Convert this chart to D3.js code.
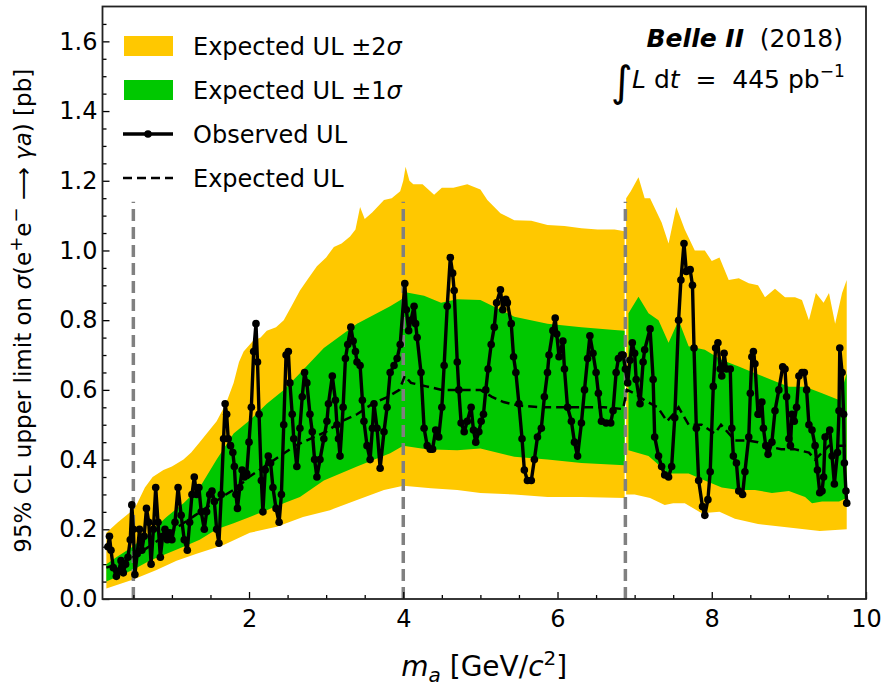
<!DOCTYPE html>
<meta charset="utf-8">
<script src="https://d3js.org/d3.v7.min.js"></script>
<style>
	body{
		margin:0;
		background:#fff;
		font-family:'DejaVu Sans', sans-serif;
	}
	.tick text{
		font-family:'DejaVu Sans', sans-serif;
	}
</style>
<div id="chart"></div>
<script>

// observed upper limit (mass in GeV/c^2, limit in pb)
var obsMass = [0.17,0.19,0.21,0.24,0.28,0.31,0.34,0.37,0.40,0.43,0.46,0.48,0.50,0.52,0.55,0.58,0.61,0.64,0.67,0.70,
	0.73,0.76,0.79,0.82,0.85,0.88,0.91,0.94,0.97,1.00,1.04,1.08,1.12,1.16,1.20,1.23,1.26,1.29,1.32,1.35,
	1.38,1.42,1.45,1.49,1.52,1.55,1.58,1.61,1.64,1.67,1.69,1.71,1.73,1.76,1.79,1.81,1.83,1.85,1.88,1.91,
	1.94,1.97,2.00,2.03,2.06,2.09,2.11,2.13,2.16,2.18,2.21,2.25,2.28,2.31,2.35,2.39,2.42,2.45,2.48,2.51,
	2.53,2.56,2.58,2.62,2.66,2.69,2.72,2.75,2.79,2.82,2.85,2.88,2.92,2.97,3.01,3.03,3.08,3.12,3.14,3.16,
	3.18,3.22,3.25,3.28,3.32,3.35,3.38,3.40,3.44,3.47,3.49,3.53,3.57,3.60,3.62,3.66,3.70,3.75,3.79,3.83,
	3.88,3.92,3.96,4.02,4.04,4.07,4.10,4.14,4.16,4.18,4.23,4.27,4.31,4.35,4.38,4.42,4.46,4.50,4.53,4.57,
	4.61,4.64,4.66,4.70,4.72,4.75,4.79,4.83,4.88,4.91,4.94,4.98,5.01,5.04,5.07,5.10,5.14,5.18,5.21,5.26,
	5.29,5.33,5.35,5.40,5.43,5.46,5.50,5.54,5.57,5.61,5.66,5.70,5.74,5.79,5.83,5.87,5.89,5.94,5.97,5.99,
	6.02,6.07,6.09,6.13,6.18,6.22,6.26,6.31,6.35,6.39,6.42,6.46,6.50,6.53,6.57,6.63,6.69,6.72,6.76,6.79,
	6.83,6.85,6.88,6.91,6.94,6.97,7.00,7.02,7.07,7.11,7.13,7.20,7.24,7.26,7.31,7.35,7.39,7.44,7.48,7.52,
	7.57,7.60,7.64,7.67,7.72,7.75,7.77,7.80,7.83,7.88,7.91,7.95,7.98,8.02,8.05,8.08,8.11,8.13,8.16,8.19,
	8.24,8.26,8.28,8.32,8.35,8.40,8.43,8.48,8.50,8.52,8.54,8.56,8.60,8.61,8.65,8.67,8.70,8.73,8.78,8.82,
	8.87,8.92,8.95,8.97,9.00,9.02,9.04,9.07,9.10,9.13,9.17,9.20,9.23,9.26,9.30,9.34,9.37,9.40,9.43,9.45,
	9.47,9.53,9.56,9.59,9.63,9.65,9.66,9.69,9.71,9.72,9.74,9.75]
var obsLimit = [0.15,0.18,0.14,0.09,0.065,0.08,0.11,0.075,0.10,0.12,0.17,0.27,0.20,0.07,0.13,0.20,0.14,0.18,0.26,0.22,
	0.10,0.20,0.32,0.22,0.12,0.18,0.20,0.17,0.19,0.17,0.22,0.32,0.24,0.17,0.14,0.22,0.30,0.35,0.30,0.32,
	0.25,0.20,0.25,0.30,0.31,0.28,0.20,0.16,0.30,0.46,0.56,0.53,0.46,0.44,0.42,0.38,0.30,0.26,0.32,0.37,
	0.35,0.36,0.45,0.55,0.71,0.79,0.68,0.53,0.34,0.25,0.37,0.41,0.39,0.32,0.26,0.22,0.30,0.50,0.70,0.71,
	0.62,0.53,0.46,0.38,0.49,0.58,0.65,0.62,0.53,0.48,0.40,0.35,0.40,0.46,0.51,0.56,0.64,0.57,0.50,0.46,
	0.41,0.55,0.69,0.73,0.78,0.74,0.71,0.68,0.67,0.57,0.51,0.44,0.40,0.49,0.56,0.49,0.375,0.48,0.55,0.65,
	0.67,0.69,0.73,0.905,0.83,0.77,0.80,0.84,0.79,0.75,0.65,0.49,0.44,0.43,0.43,0.485,0.465,0.55,0.67,0.84,
	0.98,0.935,0.885,0.68,0.60,0.505,0.48,0.51,0.55,0.485,0.45,0.48,0.51,0.53,0.60,0.66,0.73,0.78,0.85,0.887,
	0.83,0.86,0.85,0.79,0.695,0.65,0.56,0.46,0.37,0.34,0.34,0.40,0.465,0.49,0.58,0.65,0.70,0.77,0.806,0.76,
	0.695,0.74,0.66,0.55,0.51,0.45,0.41,0.505,0.60,0.69,0.755,0.705,0.65,0.59,0.51,0.505,0.505,0.54,0.65,0.69,
	0.70,0.70,0.66,0.62,0.685,0.735,0.705,0.63,0.56,0.68,0.715,0.775,0.63,0.465,0.41,0.38,0.356,0.35,0.38,0.52,
	0.80,0.915,1.02,0.94,0.945,0.90,0.72,0.49,0.34,0.265,0.24,0.285,0.365,0.61,0.72,0.735,0.66,0.64,0.705,0.66,
	0.66,0.49,0.41,0.39,0.31,0.30,0.365,0.465,0.59,0.695,0.71,0.675,0.53,0.53,0.565,0.49,0.44,0.415,0.45,0.54,
	0.60,0.666,0.66,0.58,0.46,0.44,0.53,0.51,0.55,0.64,0.65,0.65,0.60,0.50,0.485,0.44,0.37,0.305,0.31,0.35,
	0.465,0.485,0.41,0.33,0.42,0.54,0.72,0.65,0.53,0.39,0.31,0.275]

// median expected upper limit
var expMass = [0.15,0.3,0.5,0.7,0.9,1.1,1.3,1.5,1.7,1.85,2.0,2.2,2.4,2.6,2.8,3.0,3.2,3.4,3.6,3.8,3.95,4.02,4.1,4.3,4.5,4.8,5.0,5.15,5.3,5.5,
	5.8,6.1,6.4,6.6,6.85,6.9,7.0,7.13,7.3,7.42,7.5,7.57,7.7,7.87,8.04,8.12,8.3,8.47,8.6,8.74,8.9,9.07,9.26,9.34,9.52,9.65,9.76]
var expLimit = [0.09,0.10,0.12,0.15,0.18,0.21,0.24,0.27,0.30,0.32,0.35,0.38,0.41,0.44,0.46,0.48,0.51,0.53,0.56,0.58,0.60,0.64,0.62,0.61,0.60,0.60,0.60,0.58,0.565,0.555,
	0.55,0.55,0.55,0.55,0.545,0.60,0.59,0.57,0.55,0.51,0.53,0.55,0.50,0.50,0.475,0.50,0.455,0.455,0.45,0.437,0.43,0.43,0.42,0.40,0.44,0.44,0.44]

// +-2 sigma band edges [mass, limit]
var band2Upper = [[0.15,0.19],[0.3,0.22],[0.49,0.255],[0.54,0.27],[0.65,0.32],[0.75,0.35],[0.89,0.37],[1.0,0.38],[1.15,0.40],[1.25,0.42],
	[1.36,0.45],[1.47,0.48],[1.58,0.51],[1.7,0.56],[1.8,0.62],[1.87,0.68],[1.93,0.71],[2.05,0.74],[2.15,0.75],[2.23,0.77],
	[2.35,0.78],[2.45,0.80],[2.55,0.84],[2.66,0.885],[2.77,0.92],[2.88,0.955],[3.0,0.98],[3.1,1.01],[3.2,1.02],[3.31,1.04],
	[3.38,1.06],[3.44,1.125],[3.5,1.09],[3.6,1.11],[3.75,1.145],[3.85,1.15],[3.96,1.17],[4.0,1.20],[4.03,1.24],[4.08,1.20],
	[4.13,1.19],[4.25,1.19],[4.4,1.16],[4.5,1.18],[4.65,1.18],[4.83,1.19],[5.0,1.175],[5.09,1.145],[5.26,1.107],[5.44,1.087],
	[5.66,1.085],[5.87,1.073],[6.09,1.07],[6.31,1.064],[6.52,1.06],[6.74,1.06],[6.87,1.055],
	[6.89,1.15],[6.95,1.17],[7.05,1.21],[7.13,1.15],[7.2,1.15],[7.35,1.08],[7.44,1.02],[7.54,1.125],[7.65,1.06],[7.78,1.0],
	[7.91,1.0],[8.0,0.97],[8.1,0.98],[8.22,0.915],[8.35,0.92],[8.48,0.906],[8.6,0.90],[8.69,0.866],[8.82,0.89],[8.95,0.866],
	[9.08,0.866],[9.17,0.858],[9.26,0.80],[9.35,0.878],[9.45,0.85],[9.52,0.878],[9.6,0.79],[9.69,0.878],[9.75,0.915]]
var band2Lower = [[0.15,0.03],[0.49,0.055],[0.8,0.083],[1.06,0.11],[1.32,0.13],[1.67,0.155],[2.01,0.19],[2.36,0.207],[2.7,0.235],[3.05,0.255],
	[3.4,0.284],[3.75,0.313],[4.0,0.325],[4.36,0.318],[4.7,0.313],[5.0,0.304],[5.44,0.30],[5.87,0.293],[6.31,0.293],[6.87,0.29],
	[6.89,0.30],[7.0,0.30],[7.2,0.29],[7.39,0.27],[7.5,0.275],[7.65,0.275],[7.87,0.246],[8.1,0.25],[8.3,0.23],[8.6,0.215],
	[9.0,0.205],[9.4,0.195],[9.75,0.20]]

// +-1 sigma band edges [mass, limit]
var band1Upper = [[0.15,0.10],[0.28,0.12],[0.49,0.15],[0.71,0.19],[0.93,0.235],[1.15,0.275],[1.36,0.32],[1.58,0.40],[1.8,0.475],[2.01,0.513],
	[2.23,0.56],[2.45,0.60],[2.66,0.648],[2.97,0.72],[3.4,0.79],[3.83,0.84],[3.98,0.86],[4.03,0.88],[4.27,0.87],[4.49,0.85],
	[4.7,0.86],[5.0,0.858],[5.44,0.81],[5.87,0.79],[6.31,0.78],[6.74,0.772],[6.87,0.77],
	[6.92,0.82],[7.05,0.867],[7.18,0.82],[7.31,0.80],[7.44,0.735],[7.57,0.80],[7.7,0.725],[7.91,0.715],[8.13,0.686],
	[8.35,0.667],[8.56,0.648],[8.78,0.628],[9.0,0.609],[9.21,0.609],[9.43,0.59],[9.65,0.571],[9.75,0.648]]
var band1Lower = [[0.15,0.05],[0.49,0.083],[0.71,0.11],[0.93,0.13],[1.15,0.15],[1.36,0.17],[1.58,0.20],[1.8,0.217],[2.01,0.235],[2.23,0.255],
	[2.45,0.275],[2.66,0.293],[2.97,0.34],[3.4,0.38],[3.83,0.418],[4.0,0.44],[4.3,0.43],[4.7,0.427],[5.0,0.432],[5.44,0.408],
	[5.87,0.40],[6.31,0.39],[6.87,0.384],
	[6.92,0.427],[7.18,0.41],[7.44,0.36],[7.7,0.36],[7.91,0.34],[8.13,0.32],[8.35,0.313],[8.56,0.313],[8.78,0.304],
	[9.0,0.31],[9.21,0.293],[9.3,0.275],[9.43,0.28],[9.65,0.28],[9.75,0.29]]

// scan regions boundaries (gray dashed)
var regionEdges = [0.5, 4.0, 6.88]
var bandGap = 6.88

var xTicks = [2,4,6,8,10]
var yTicks = [0,0.2,0.4,0.6,0.8,1.0,1.2,1.4,1.6]

var w = 887
var h = 694
var pLeft = 102.5, pRight = 866, pTop = 6.5, pBottom = 599

var svg = d3.select("#chart").append("svg")
	.attr("width",w)
	.attr("height",h)

var x = d3.scaleLinear().domain([0.1,10]).range([pLeft,pRight])
var y = d3.scaleLinear().domain([0,1.7]).range([pBottom,pTop])

var plot = svg.append("g")

// bands, split in two pieces at the gap
function drawBand(upper, lower, color){
	var pieces = [
		[upper.filter(function(d){return d[0]<bandGap}), lower.filter(function(d){return d[0]<bandGap})],
		[upper.filter(function(d){return d[0]>bandGap}), lower.filter(function(d){return d[0]>bandGap})]
	]
	pieces.forEach(function(p){
		var poly = p[0].concat(p[1].slice().reverse())
		plot.append("path")
			.attr("d", d3.line().x(function(d){return x(d[0])}).y(function(d){return y(d[1])})(poly)+"Z")
			.attr("fill",color)
			.attr("stroke","none")
	})
}
drawBand(band2Upper, band2Lower, "#ffc800")
drawBand(band1Upper, band1Lower, "#00c800")

// region boundaries
plot.selectAll(".edge")
	.data(regionEdges)
	.join("line")
	.attr("class","edge")
	.attr("x1",function(d){return x(d)})
	.attr("x2",function(d){return x(d)})
	.attr("y1",y(0))
	.attr("y2",y(1.14))
	.attr("stroke","#808080")
	.attr("stroke-width",3.5)
	.attr("stroke-dasharray","12,6")

// expected UL
var expData = expMass.map(function(m,i){return [m,expLimit[i]]})
plot.append("path")
	.attr("d", d3.line().x(function(d){return x(d[0])}).y(function(d){return y(d[1])})(expData))
	.attr("fill","none")
	.attr("stroke","#000")
	.attr("stroke-width",2.5)
	.attr("stroke-dasharray","9,5")

// observed UL
var obsData = obsMass.map(function(m,i){return [m,obsLimit[i]]})
plot.append("path")
	.attr("d", d3.line().x(function(d){return x(d[0])}).y(function(d){return y(d[1])})(obsData))
	.attr("fill","none")
	.attr("stroke","#000")
	.attr("stroke-width",3.4)
	.attr("stroke-linejoin","round")
plot.selectAll(".dot")
	.data(obsData)
	.join("circle")
	.attr("class","dot")
	.attr("cx",function(d){return x(d[0])})
	.attr("cy",function(d){return y(d[1])})
	.attr("r",3.8)
	.attr("fill","#000")

// axes with inward ticks
var xMajor = d3.axisBottom(x).tickValues(xTicks).tickSize(-7).tickPadding(11).tickFormat(d3.format("d"))
var xMinor = d3.axisBottom(x).tickValues(d3.range(0.5,10,0.5).filter(function(d){return d%2!=0})).tickSize(-4).tickFormat("")
var yMajor = d3.axisLeft(y).tickValues(yTicks).tickSize(-7).tickPadding(5).tickFormat(d3.format(".1f"))
var yMinor = d3.axisLeft(y).tickValues(d3.range(0.05,1.7,0.05).filter(function(d){return Math.abs(d*5-Math.round(d*5))>0.01})).tickSize(-4).tickFormat("")

function styleAxis(g){
	g.select(".domain").remove()
	g.selectAll("line").attr("stroke","#000").attr("stroke-width",1.3)
	g.selectAll("text").attr("fill","#000").style("font-size","24px").style("font-family","'DejaVu Sans', sans-serif")
}
svg.append("g").attr("transform","translate(0,"+pBottom+")").call(xMajor).call(styleAxis)
svg.append("g").attr("transform","translate(0,"+pBottom+")").call(xMinor).call(styleAxis)
svg.append("g").attr("transform","translate("+pLeft+",0)").call(yMajor).call(styleAxis)
svg.append("g").attr("transform","translate("+pLeft+",0)").call(yMinor).call(styleAxis)

// frame
svg.append("rect")
	.attr("x",pLeft).attr("y",pTop)
	.attr("width",pRight-pLeft).attr("height",pBottom-pTop)
	.attr("fill","none").attr("stroke","#222").attr("stroke-width",1.8)

// axis titles
var xl = svg.append("text")
	.attr("x",(pLeft+pRight)/2).attr("y",676)
	.attr("text-anchor","middle")
	.style("font-size","28px")
xl.append("tspan").text("m").style("font-style","italic")
xl.append("tspan").text("a").style("font-style","italic").style("font-size","20px").attr("dy",6)
xl.append("tspan").text(" [GeV/").attr("dy",-6)
xl.append("tspan").text("c").style("font-style","italic")
xl.append("tspan").text("2").style("font-size","20px").attr("dy",-11)
xl.append("tspan").text("]").attr("dy",11)

var yl = svg.append("text")
	.attr("transform","translate(31,"+((pTop+pBottom)/2+8)+") rotate(-90)")
	.attr("text-anchor","middle")
	.style("font-size","23px")
yl.append("tspan").text("95% CL upper limit on ")
yl.append("tspan").text("σ").style("font-style","italic")
yl.append("tspan").text("(e")
yl.append("tspan").text("+").style("font-size","18px").attr("dy",-9)
yl.append("tspan").text("e").attr("dy",9)
yl.append("tspan").text("−").style("font-size","18px").attr("dy",-9)
yl.append("tspan").text(" ⟶ ").attr("dy",9)
yl.append("tspan").text("γa").style("font-style","italic")
yl.append("tspan").text(") [pb]")

// legend
var legend = svg.append("g")
var rowY = [46,90,134,178]
legend.append("rect").attr("x",124).attr("y",rowY[0]-10).attr("width",49).attr("height",20).attr("fill","#ffc800")
legend.append("rect").attr("x",124).attr("y",rowY[1]-10).attr("width",49).attr("height",20).attr("fill","#00c800")
legend.append("line").attr("x1",123).attr("x2",173).attr("y1",rowY[2]).attr("y2",rowY[2]).attr("stroke","#000").attr("stroke-width",3.4)
legend.append("circle").attr("cx",148).attr("cy",rowY[2]).attr("r",3.8).attr("fill","#000")
legend.append("line").attr("x1",123).attr("x2",173).attr("y1",rowY[3]).attr("y2",rowY[3]).attr("stroke","#000").attr("stroke-width",2.5).attr("stroke-dasharray","9,5")

var labels = [["Expected UL ±2","σ"],["Expected UL ±1","σ"],["Observed UL",""],["Expected UL",""]]
labels.forEach(function(l,i){
	var t = legend.append("text").attr("x",193).attr("y",rowY[i]+9).style("font-size","24px")
	t.append("tspan").text(l[0])
	if(l[1]!="") t.append("tspan").text(l[1]).style("font-style","italic")
})

// experiment label
var t1 = svg.append("text").attr("x",843).attr("y",47).attr("text-anchor","end").style("font-size","25px")
t1.append("tspan").text("Belle II").style("font-weight","bold").style("font-style","italic")
t1.append("tspan").text("  (2018)").attr("xml:space","preserve")

svg.append("text").attr("x",611).attr("y",96).style("font-size","42px").text("∫")
var t2 = svg.append("text").attr("x",632).attr("y",88).style("font-size","25px").attr("xml:space","preserve")
t2.append("tspan").text("L").style("font-style","italic")
t2.append("tspan").text(" d")
t2.append("tspan").text("t").style("font-style","italic")
t2.append("tspan").text("  =  445 pb")
t2.append("tspan").text("−1").style("font-size","17px").attr("dy",-11)

</script>
